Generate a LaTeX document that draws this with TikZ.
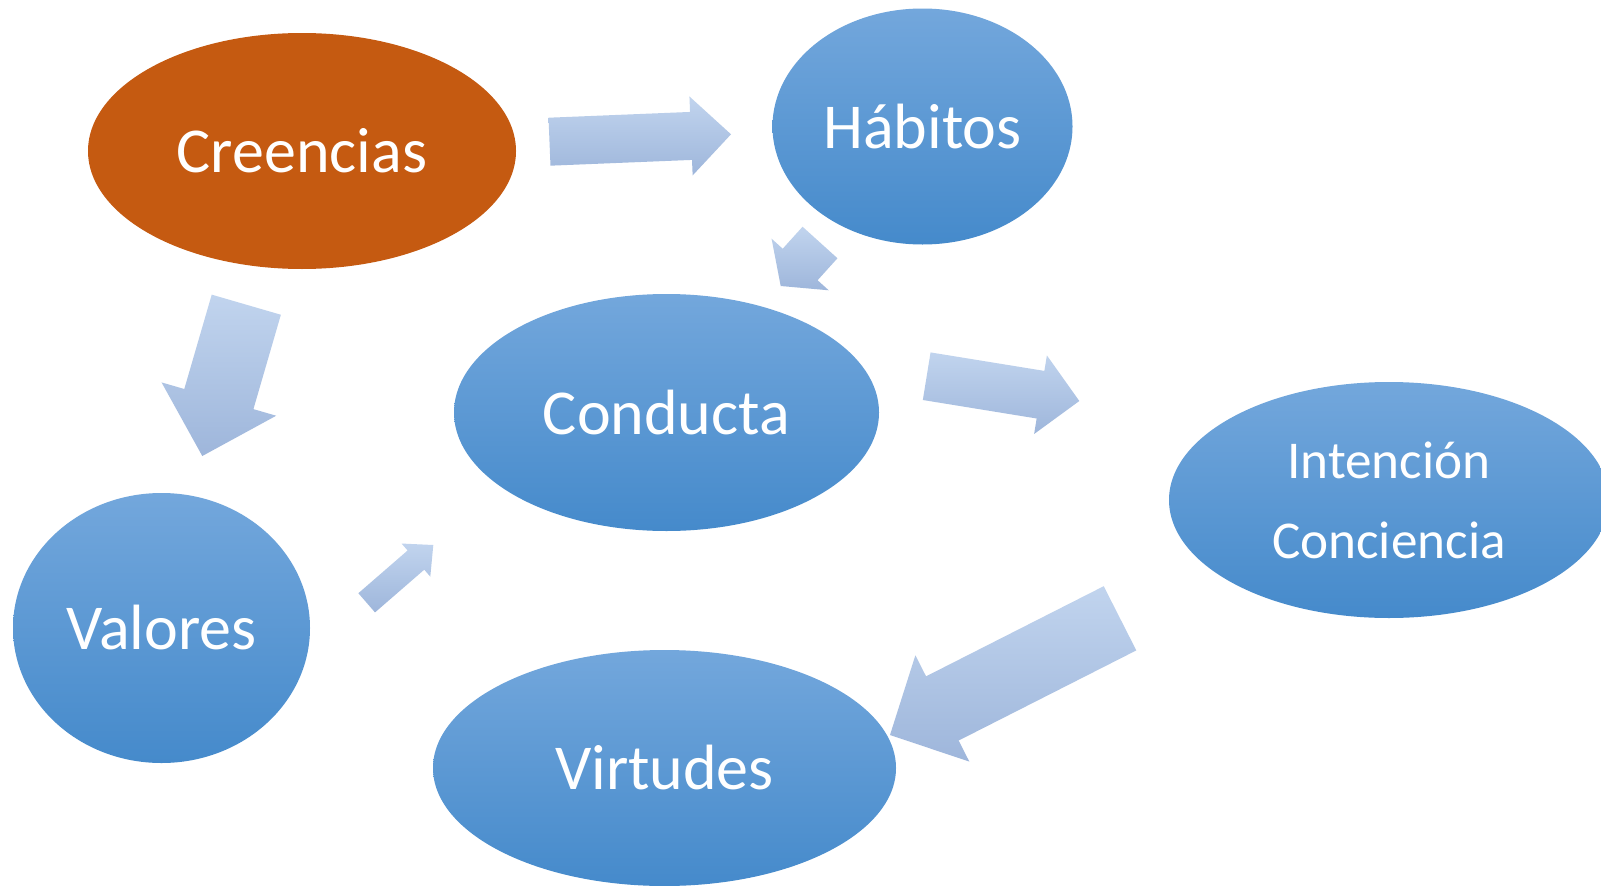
\documentclass[tikz,border=0pt]{standalone}
\usepackage{fontspec}
\setmainfont{Carlito}
\usetikzlibrary{shapes.geometric,calc}
\definecolor{orangeC}{HTML}{C55A11}
\definecolor{bTop}{HTML}{73A7DC}
\definecolor{bMid}{HTML}{5B9BD5}
\definecolor{bBot}{HTML}{458ACB}
\definecolor{aTop}{HTML}{C1D4EE}
\definecolor{aBot}{HTML}{9EB6DB}
\tikzset{
  bubble/.style={ellipse, inner sep=0pt, text=white, font=\fontsize{64}{70}\selectfont},
  bluebub/.style={bubble, shade, top color=bTop, middle color=bMid, bottom color=bBot},
  orangebub/.style={bubble, fill=orangeC},
  blockarrow/.style={shade, top color=aTop, bottom color=aBot, draw=none},
}
% #1 tail centre, #2 tip, #3 shaft half width, #4 head half width, #5 head length
\newcommand{\blockarr}[5]{%
  \coordinate (hb) at ($(#2)!#5!(#1)$);
  \path[blockarrow] ($(#1)!#3!90:(#2)$) -- ($(hb)!#3!90:(#2)$) -- ($(hb)!#4!90:(#2)$)
    -- (#2) -- ($(hb)!#4!-90:(#2)$) -- ($(hb)!#3!-90:(#2)$) -- ($(#1)!#3!-90:(#2)$) -- cycle;
}
\begin{document}
\begin{tikzpicture}[x=1pt,y=-1pt]
  \useasboundingbox (0,0) rectangle (1601,886);
  \clip (0,0) rectangle (1601,886);
  \fill[white] (0,0) rectangle (1601,886);

  \node[orangebub, minimum width=428pt, minimum height=236pt] (cre) at (302,151) {Creencias};
  \node[bluebub, minimum width=300pt, minimum height=236pt] (hab) at (922.5,126.5) {Hábitos};
  \node[bluebub, minimum width=425pt, minimum height=237pt] (con) at (666.5,412.5) {Conducta};
  \node[bluebub, minimum width=440pt, minimum height=236pt, align=center,
        font=\fontsize{53.2}{80}\selectfont] (int) at (1389,500) {Intención\\Conciencia};
  \node[bluebub, minimum width=297pt, minimum height=270pt] (val) at (161.5,628) {Valores};
  \node[bluebub, minimum width=463pt, minimum height=236pt] (vir) at (664.5,768) {Virtudes};

  \coordinate (a1t) at (549.5,141.7);  \coordinate (a1h) at (731,134.3);
  \coordinate (a2t) at (820,242.5);    \coordinate (a2h) at (780.7,286);
  \coordinate (a3t) at (246.3,304.7);  \coordinate (a3h) at (202.3,456);
  \coordinate (a4t) at (366.7,602.8);  \coordinate (a4h) at (433.3,545);
  \coordinate (a5t) at (926.7,376.2);  \coordinate (a5h) at (1079.3,401);
  \coordinate (a6t) at (1120,618.3);   \coordinate (a6h) at (890,735);

  \blockarr{a1t}{a1h}{24pt}{39.5pt}{40pt}
  \blockarr{a2t}{a2h}{23.5pt}{38.5pt}{29pt}
  \blockarr{a3t}{a3h}{36pt}{59.7pt}{59.3pt}
  \blockarr{a4t}{a4h}{12.7pt}{21.9pt}{23pt}
  \blockarr{a5t}{a5h}{24.1pt}{39.8pt}{39.3pt}
  \blockarr{a6t}{a6h}{36pt}{59.6pt}{58.7pt}
\end{tikzpicture}
\end{document}
